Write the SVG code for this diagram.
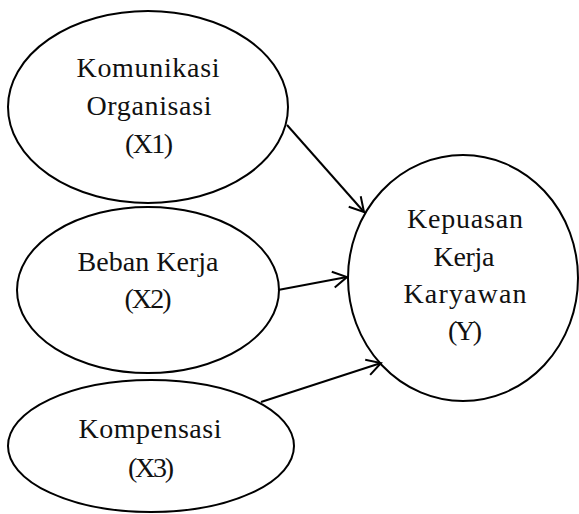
<svg xmlns="http://www.w3.org/2000/svg" width="579" height="514" viewBox="0 0 579 514">
<style>
.n{fill:#fff;stroke:#000;stroke-width:2}
.t{font-family:"Liberation Serif","Times New Roman",serif;font-size:28px;fill:#111;text-anchor:middle}
.c{stroke:#000;stroke-width:2;fill:none;marker-end:url(#ah)}
</style>
<defs>
<marker id="ah" markerUnits="userSpaceOnUse" markerWidth="20" markerHeight="20" refX="16" refY="10" orient="auto" viewBox="0 0 20 20">
<path d="M2,2 L16,10 L2,18" fill="none" stroke="#000" stroke-width="2"/>
</marker>
</defs>
<g id="x1">
<ellipse class="n" cx="148" cy="107" rx="140" ry="96"/>
<text class="t" x="148" y="77" textLength="143">Komunikasi</text>
<text class="t" x="149" y="115" textLength="125">Organisasi</text>
<text class="t" x="149" y="153" textLength="48">(X1)</text>
</g>
<g id="x2">
<ellipse class="n" cx="148" cy="290" rx="131" ry="83"/>
<text class="t" x="148" y="271" textLength="141">Beban Kerja</text>
<text class="t" x="148" y="308" textLength="47">(X2)</text>
</g>
<g id="x3">
<ellipse class="n" cx="151" cy="446" rx="143" ry="66"/>
<text class="t" x="150" y="438" textLength="143">Kompensasi</text>
<text class="t" x="151" y="477" textLength="46">(X3)</text>
</g>
<g id="y">
<ellipse class="n" cx="463" cy="278" rx="115" ry="123"/>
<text class="t" x="465" y="228" textLength="116">Kepuasan</text>
<text class="t" x="464" y="266" textLength="61">Kerja</text>
<text class="t" x="465" y="303" textLength="123">Karyawan</text>
<text class="t" x="465" y="340" textLength="34">(Y)</text>
</g>
<g id="connectors">
<line class="c" x1="287" y1="125" x2="364" y2="212"/>
<line class="c" x1="278" y1="290" x2="347" y2="277"/>
<line class="c" x1="261" y1="402" x2="381" y2="363"/>
</g>
</svg>
